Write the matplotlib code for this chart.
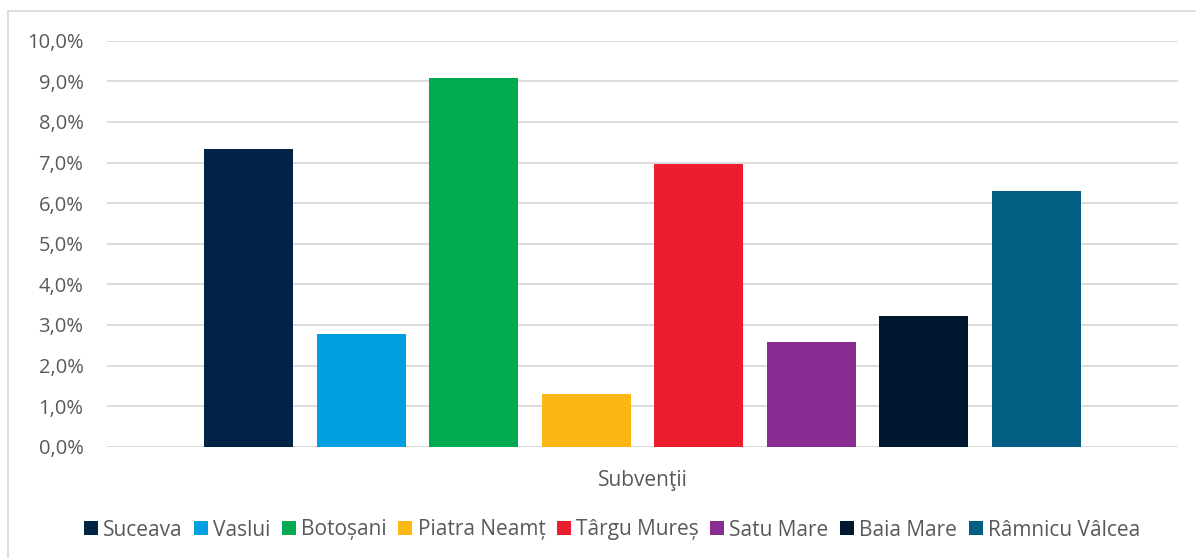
import matplotlib
matplotlib.use("Agg")
import matplotlib.pyplot as plt
from matplotlib.patches import Rectangle
from matplotlib.ticker import FuncFormatter, MultipleLocator

categories = ["Suceava", "Vaslui", "Botoșani", "Piatra Neamț", "Târgu Mureș",
              "Satu Mare", "Baia Mare", "Râmnicu Vâlcea"]
values = [7.33, 2.78, 9.08, 1.30, 6.96, 2.58, 3.22, 6.30]
colors = ["#002346", "#009FDF", "#00AA4F", "#FDB714", "#EC1D2F",
          "#872C91", "#001730", "#035E83"]
group_label = "Subvenţii"

plt.rcParams['font.family'] = ['Open Sans', 'DejaVu Sans']
text_color = "#595959"
grid_color = "#D9D9D9"

W, H = 1196, 558
fig = plt.figure(figsize=(W / 100, H / 100), dpi=100)
ax = fig.add_axes([107 / W, 1 - 446.7 / H, (1178 - 107) / W, (446.7 - 40.7) / H])

x = list(range(len(categories)))
step = 112.5
half = (642.5 - 107) / step
ax.set_xlim(3.5 - half, 3.5 + half)
for xi, v, c, lab in zip(x, values, colors, categories):
    ax.bar(xi, v, width=89 / step, color=c, label=lab, zorder=3)

ax.set_ylim(0, 10)
ax.yaxis.set_major_locator(MultipleLocator(1))
ax.yaxis.set_major_formatter(FuncFormatter(lambda v, p: f"{v:.1f}%".replace(".", ",")))
ax.grid(axis="y", color=grid_color, linewidth=1.3, zorder=0)
for s in ax.spines.values():
    s.set_visible(False)
ax.tick_params(axis="y", length=0, pad=17, labelsize=14.5, labelcolor=text_color)
ax.set_xticks([3.5])
ax.set_xticklabels([group_label])
ax.tick_params(axis="x", length=0, pad=17, labelsize=15, labelcolor=text_color)

fig.patches.append(Rectangle((7.5 / W, -0.1), 1.1, 1 - 11.5 / H + 0.1,
                             transform=fig.transFigure, fill=False,
                             edgecolor=grid_color, linewidth=1.2))

leg = fig.legend(loc="center", bbox_to_anchor=(612 / W, 1 - 530 / H), ncol=8,
                 frameon=False, fontsize=15.0, handlelength=0.67, handleheight=0.67,
                 handletextpad=0.25, columnspacing=0.55, labelcolor=text_color)

fig.savefig("out.png", dpi=100)
